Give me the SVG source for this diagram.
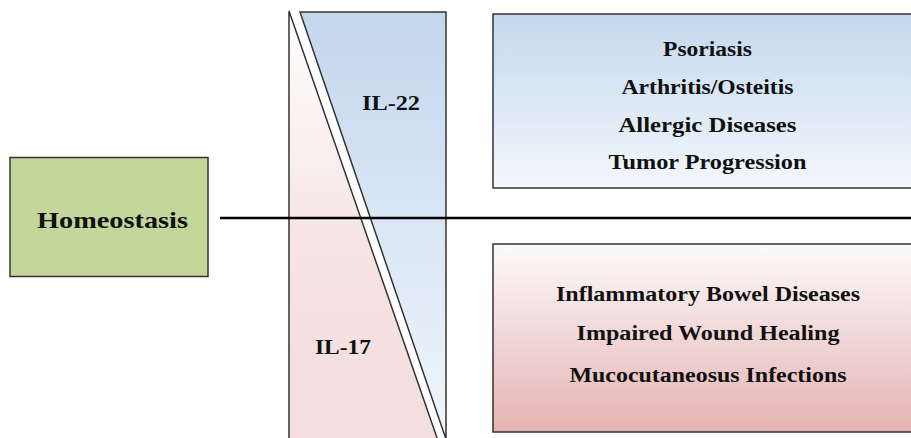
<svg xmlns="http://www.w3.org/2000/svg" width="911" height="438" viewBox="0 0 911 438">
<style>
.b{stroke:#333;stroke-width:1.5}
.t{font-family:'Liberation Serif','Times New Roman',Times,serif;font-weight:700;font-size:20px;fill:#111;text-anchor:middle}
</style>
<defs>
<linearGradient id="gBlue" x1="0" y1="0" x2="0" y2="1"><stop offset="0" stop-color="#c4d8ee"/><stop offset="1" stop-color="#f3f7fc"/></linearGradient>
<linearGradient id="gBlueT" x1="0" y1="0" x2="0" y2="1"><stop offset="0" stop-color="#c3d7ee"/><stop offset="1" stop-color="#f1f6fc"/></linearGradient>
<linearGradient id="gPinkT" x1="0" y1="0" x2="0" y2="1"><stop offset="0" stop-color="#ffffff"/><stop offset="0.55" stop-color="#f6e3e3"/><stop offset="1" stop-color="#f3dddd"/></linearGradient>
<linearGradient id="gPink" x1="0" y1="0" x2="0" y2="1"><stop offset="0" stop-color="#fdfafa"/><stop offset="1" stop-color="#e5b3b3"/></linearGradient>
</defs>
<rect width="911" height="438" fill="#fff"/>
<g id="il17">
<polygon class="b" points="289,11 439.5,445 289,445" fill="url(#gPinkT)"/>
<text class="t" font-family="Liberation Serif, serif" x="343" y="354" textLength="56" lengthAdjust="spacingAndGlyphs">IL-17</text>
</g>
<g id="il22">
<polygon class="b" points="300,12 446,12 446,445 448,445" fill="url(#gBlueT)"/>
<text class="t" x="391" y="110" textLength="58" lengthAdjust="spacingAndGlyphs">IL-22</text>
</g>
<g id="connectors">
<line x1="220" y1="218" x2="911" y2="218" stroke="#000" stroke-width="2.5"/>
</g>
<g id="homeostasis">
<rect class="b" x="10" y="157.5" width="198" height="119" fill="#c3d79b"/>
<text class="t" x="112.5" y="228" style="font-size:23px" textLength="151" lengthAdjust="spacingAndGlyphs">Homeostasis</text>
</g>
<g id="il22-diseases">
<rect class="b" x="493" y="14" width="430" height="174" fill="url(#gBlue)"/>
<text class="t" x="707.5" y="56" textLength="89" lengthAdjust="spacingAndGlyphs">Psoriasis</text>
<text class="t" x="707.5" y="94" textLength="172" lengthAdjust="spacingAndGlyphs">Arthritis/Osteitis</text>
<text class="t" x="707.5" y="132" textLength="178" lengthAdjust="spacingAndGlyphs">Allergic  Diseases</text>
<text class="t" x="707.5" y="169" textLength="198" lengthAdjust="spacingAndGlyphs">Tumor Progression</text>
</g>
<g id="il17-diseases">
<rect class="b" x="493" y="244" width="430" height="188" fill="url(#gPink)"/>
<text class="t" x="708" y="301" textLength="304" lengthAdjust="spacingAndGlyphs">Inflammatory Bowel Diseases</text>
<text class="t" x="708" y="340" textLength="263" lengthAdjust="spacingAndGlyphs">Impaired Wound Healing</text>
<text class="t" x="708" y="382" textLength="277" lengthAdjust="spacingAndGlyphs">Mucocutaneosus Infections</text>
</g>
</svg>
